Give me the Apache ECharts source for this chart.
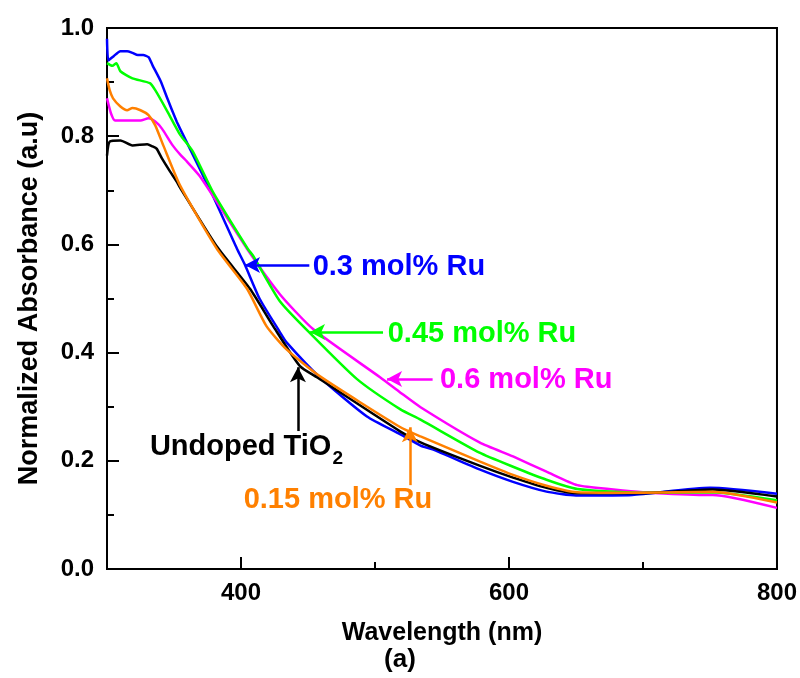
<!DOCTYPE html>
<html>
<head>
<meta charset="utf-8">
<script src="https://cdn.jsdelivr.net/npm/echarts@6/dist/echarts.min.js"></script>
<style>
html, body { margin: 0; padding: 0; background: #fff; }
#chart { width: 800px; height: 678px; }
</style>
</head>
<body>
<div id="chart"></div>
<script>
// spectra (wavelength nm / normalized absorbance)
const wlUndoped  = [300, 302, 310, 319, 330, 334, 337, 341, 347, 352, 354.5, 382, 406.7, 424, 444, 457, 519, 534, 578, 603, 628, 650, 700, 752, 800];
const absUndoped = [0.764, 0.790, 0.792, 0.783, 0.785, 0.781, 0.777, 0.759, 0.735, 0.716, 0.705, 0.596, 0.518, 0.449, 0.375, 0.354, 0.254, 0.234, 0.191, 0.169, 0.150, 0.140, 0.140, 0.147, 0.134];

const wlRu015  = [300, 302, 304.5, 310, 315, 319, 325, 331, 336, 342, 354.5, 382, 404.5, 419, 434, 459, 519, 534, 578, 603, 628, 651, 700, 752, 800];
const absRu015 = [0.907, 0.885, 0.870, 0.855, 0.848, 0.852, 0.848, 0.839, 0.820, 0.783, 0.709, 0.592, 0.518, 0.449, 0.406, 0.356, 0.262, 0.245, 0.199, 0.174, 0.154, 0.142, 0.141, 0.143, 0.123];

const wlRu03  = [300, 301, 305, 310, 315, 319, 323, 327, 331, 334, 340, 345, 352, 354.5, 379, 397, 403, 414, 429, 434, 459, 494, 519, 534, 543, 578, 603, 628, 650, 692, 750, 800];
const absRu03 = [0.980, 0.940, 0.948, 0.957, 0.957, 0.954, 0.950, 0.950, 0.946, 0.931, 0.902, 0.870, 0.827, 0.814, 0.690, 0.592, 0.562, 0.499, 0.438, 0.419, 0.354, 0.282, 0.249, 0.228, 0.221, 0.184, 0.161, 0.143, 0.136, 0.137, 0.150, 0.139];

const wlRu045  = [300, 304, 307, 310, 319, 332, 336, 345, 354.5, 364, 379, 405, 409, 429, 451.5, 486.6, 519, 534, 578, 603, 628, 651, 700, 752, 800];
const absRu045 = [0.935, 0.930, 0.935, 0.920, 0.907, 0.898, 0.885, 0.846, 0.803, 0.772, 0.697, 0.592, 0.579, 0.495, 0.436, 0.351, 0.295, 0.276, 0.215, 0.189, 0.165, 0.148, 0.141, 0.142, 0.127];

const wlRu06  = [300, 303, 306, 315, 325, 331, 336, 341, 349, 355, 359.7, 369, 379, 404.5, 429, 454, 504, 519, 534, 578, 603, 628, 651, 678, 700, 745, 752, 800];
const absRu06 = [0.870, 0.842, 0.829, 0.829, 0.829, 0.833, 0.827, 0.814, 0.783, 0.765, 0.753, 0.727, 0.690, 0.592, 0.508, 0.443, 0.354, 0.326, 0.299, 0.234, 0.208, 0.180, 0.155, 0.147, 0.142, 0.137, 0.137, 0.113];

const majorX = [400, 600, 800];
const minorX = [500, 700];

const FONT = '"Liberation Sans", Arial, Helvetica, sans-serif';

function pairs(xs, ys) {
    return xs.map((x, i) => [x, ys[i]]);
}

function arrow(from, to, color) {
    return {
        silent: true,
        symbol: ['none', 'arrow'],
        symbolSize: [12, 15],
        label: { show: false },
        lineStyle: { color: color, width: 2.5, type: 'solid' },
        data: [[{ coord: from }, { coord: to }]]
    };
}

function curve(name, color, xs, ys, markLine) {
    return {
        name: name,
        type: 'line',
        data: pairs(xs, ys),
        showSymbol: false,
        smooth: 0.2,
        lineStyle: { color: color, width: 2.5 },
        itemStyle: { color: color },
        markLine: markLine
    };
}

const axisLineStyle = { color: '#000', width: 2 };
const tickFont = { color: '#000', fontSize: 24, fontWeight: 'bold', fontFamily: FONT };

const chart = echarts.init(document.getElementById('chart'));

chart.setOption({
    animation: false,
    backgroundColor: '#fff',
    grid: {
        left: 107, right: 23, top: 28, bottom: 109,
        show: true, borderColor: '#000', borderWidth: 2
    },
    xAxis: [{
        type: 'value',
        min: 300,
        max: 800,
        axisLine: { show: true, onZero: false, lineStyle: axisLineStyle },
        axisTick: { show: true, inside: true, length: 12, customValues: majorX, lineStyle: axisLineStyle },
        axisLabel: Object.assign({ customValues: majorX, margin: 12 }, tickFont),
        splitLine: { show: false },
        name: 'Wavelength (nm)',
        nameLocation: 'middle',
        nameGap: 52,
        nameTextStyle: { color: '#000', fontSize: 25, fontWeight: 'bold', fontFamily: FONT }
    }, {
        type: 'value',
        min: 300,
        max: 800,
        position: 'bottom',
        axisLine: { show: false },
        axisTick: { show: true, inside: true, length: 7, customValues: minorX, lineStyle: axisLineStyle },
        axisLabel: { show: false },
        splitLine: { show: false }
    }],
    yAxis: {
        type: 'value',
        min: 0,
        max: 1,
        interval: 0.2,
        axisLine: { show: true, lineStyle: axisLineStyle },
        axisTick: { show: true, inside: true, length: 12, lineStyle: axisLineStyle },
        minorTick: { show: true, splitNumber: 2, length: 7, lineStyle: axisLineStyle },
        axisLabel: Object.assign({ margin: 13, formatter: v => v.toFixed(1) }, tickFont),
        splitLine: { show: false },
        name: 'Normalized Absorbance (a.u)',
        nameLocation: 'middle',
        nameGap: 64,
        nameTextStyle: { color: '#000', fontSize: 27, fontWeight: 'bold', fontFamily: FONT }
    },
    series: [
        curve('0.3 mol% Ru', '#0000ff', wlRu03, absRu03, arrow([451, 0.562], [403, 0.562], '#0000ff')),
        curve('0.6 mol% Ru', '#ff00ff', wlRu06, absRu06, arrow([543, 0.351], [509, 0.351], '#ff00ff')),
        curve('0.45 mol% Ru', '#00ff00', wlRu045, absRu045, arrow([506, 0.438], [451.5, 0.438], '#00ff00')),
        curve('Undoped TiO2', '#000000', wlUndoped, absUndoped, arrow([442.5, 0.255], [442.5, 0.373], '#000000')),
        curve('0.15 mol% Ru', '#ff8000', wlRu015, absRu015, arrow([526, 0.155], [526, 0.262], '#ff8000'))
    ]
});

// text labels next to the arrows, anchored in data space
const labels = [
    { text: '0.3 mol% Ru', color: '#0000ff', at: [453.5, 0.558] },
    { text: '0.45 mol% Ru', color: '#00ff00', at: [509.5, 0.434] },
    { text: '0.6 mol% Ru', color: '#ff00ff', at: [548.5, 0.349] },
    { text: 'Undoped TiO', color: '#000000', at: [332, 0.226], sub: '2' },
    { text: '0.15 mol% Ru', color: '#ff8000', at: [402, 0.128] }
];

const LABEL_SIZE = 29;
const ctx = document.createElement('canvas').getContext('2d');
ctx.font = 'bold ' + LABEL_SIZE + 'px ' + FONT;

const graphics = [];
labels.forEach(l => {
    const p = chart.convertToPixel({ xAxisIndex: 0, yAxisIndex: 0 }, l.at);
    graphics.push({
        type: 'text', x: p[0], y: p[1], silent: true,
        style: {
            text: l.text, fill: l.color, align: 'left', verticalAlign: 'middle',
            fontSize: LABEL_SIZE, fontWeight: 'bold', fontFamily: FONT
        }
    });
    if (l.sub) {
        const w = ctx.measureText(l.text).width;
        graphics.push({
            type: 'text', x: p[0] + w + 1, y: p[1] + 12, silent: true,
            style: {
                text: l.sub, fill: l.color, align: 'left', verticalAlign: 'middle',
                fontSize: 19, fontWeight: 'bold', fontFamily: FONT
            }
        });
    }
});
graphics.push({
    type: 'text', left: 'center', top: 647, silent: true,
    style: { text: '(a)', fill: '#000', fontSize: 26, fontWeight: 'bold', fontFamily: FONT }
});

chart.setOption({ graphic: graphics });
</script>
</body>
</html>
